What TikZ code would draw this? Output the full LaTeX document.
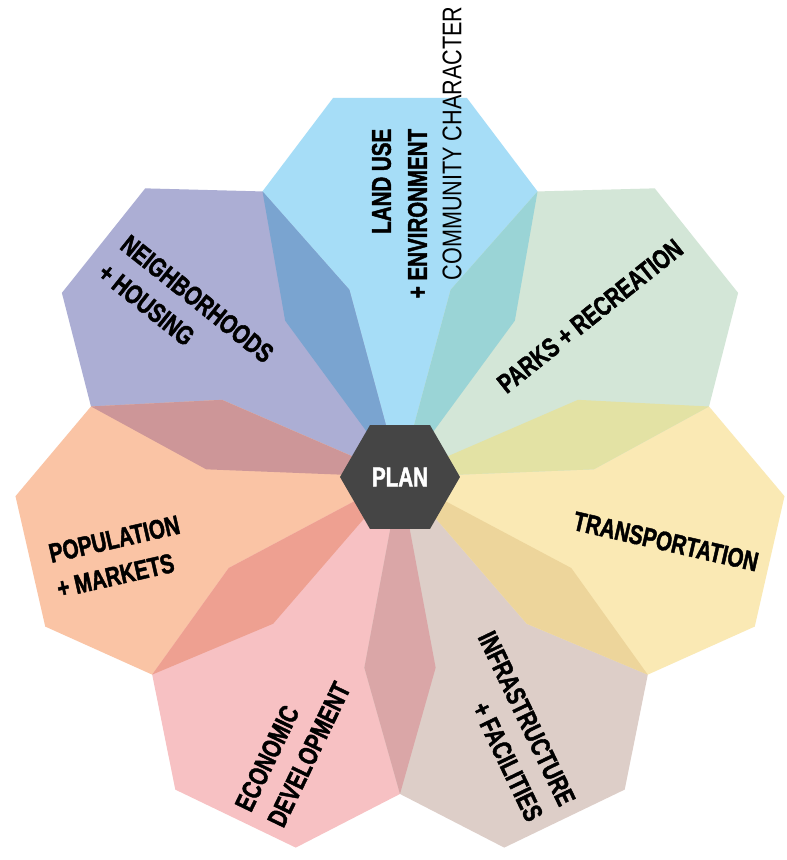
\documentclass[tikz,border=0pt]{standalone}
\usepackage{fontspec}
\newfontfamily\petalfont{Liberation Sans Bold}[FakeStretch=0.76, FakeBold=1.6]
\newfontfamily\notefont{Liberation Sans}[FakeStretch=0.8]
\usetikzlibrary{shapes.geometric}

\definecolor{landcol}{HTML}{A6DDF7}
\definecolor{neighcol}{HTML}{ACAED4}
\definecolor{popcol}{HTML}{FAC4A5}
\definecolor{econcol}{HTML}{F7C1C3}
\definecolor{infracol}{HTML}{DDCEC8}
\definecolor{transcol}{HTML}{FAE9B4}
\definecolor{parkscol}{HTML}{D3E6D7}
\definecolor{landneigh}{HTML}{7AA4D0}
\definecolor{neighpop}{HTML}{CD9698}
\definecolor{popecon}{HTML}{EEA091}
\definecolor{econinfra}{HTML}{DAA6A7}
\definecolor{infratrans}{HTML}{EDD59B}
\definecolor{transparks}{HTML}{E3E2A4}
\definecolor{parksland}{HTML}{9AD4D6}
\definecolor{plancol}{HTML}{454545}

\tikzset{
  petal label/.style={font=\petalfont\fontsize{27}{36}\selectfont, inner sep=0pt},
  note label/.style={font=\notefont\fontsize{27}{36}\selectfont, inner sep=0pt},
}

\begin{document}
\begin{tikzpicture}[x=1pt,y=1pt]
      \fill[white] (-400,-383) rectangle (387,477);
      % petals
      \fill[landcol] (0,0) -- (53.7:194) -- (64.29:317) -- (80:385) -- (100:385) -- (115.71:317) -- (126.3:194) -- cycle;
      \fill[neighcol, rotate=51.43] (0,0) -- (53.7:194) -- (64.29:317) -- (80:385) -- (100:385) -- (115.71:317) -- (126.3:194) -- cycle;
      \fill[popcol, rotate=102.86] (0,0) -- (53.7:194) -- (64.29:317) -- (80:385) -- (100:385) -- (115.71:317) -- (126.3:194) -- cycle;
      \fill[econcol, rotate=154.29] (0,0) -- (53.7:194) -- (64.29:317) -- (80:385) -- (100:385) -- (115.71:317) -- (126.3:194) -- cycle;
      \fill[infracol, rotate=205.71] (0,0) -- (53.7:194) -- (64.29:317) -- (80:385) -- (100:385) -- (115.71:317) -- (126.3:194) -- cycle;
      \fill[transcol, rotate=257.14] (0,0) -- (53.7:194) -- (64.29:317) -- (80:385) -- (100:385) -- (115.71:317) -- (126.3:194) -- cycle;
      \fill[parkscol, rotate=308.57] (0,0) -- (53.7:194) -- (64.29:317) -- (80:385) -- (100:385) -- (115.71:317) -- (126.3:194) -- cycle;
      % overlaps
      \fill[landneigh] (0,0) -- (126.3:194) -- (115.71:317) -- (105.13:194) -- cycle;
      \fill[neighpop, rotate=51.43] (0,0) -- (126.3:194) -- (115.71:317) -- (105.13:194) -- cycle;
      \fill[popecon, rotate=102.86] (0,0) -- (126.3:194) -- (115.71:317) -- (105.13:194) -- cycle;
      \fill[econinfra, rotate=154.29] (0,0) -- (126.3:194) -- (115.71:317) -- (105.13:194) -- cycle;
      \fill[infratrans, rotate=205.71] (0,0) -- (126.3:194) -- (115.71:317) -- (105.13:194) -- cycle;
      \fill[transparks, rotate=257.14] (0,0) -- (126.3:194) -- (115.71:317) -- (105.13:194) -- cycle;
      \fill[parksland, rotate=308.57] (0,0) -- (126.3:194) -- (115.71:317) -- (105.13:194) -- cycle;
      % centre
      \node[regular polygon, regular polygon sides=6, minimum size=120, inner sep=0pt,
        fill=plancol, text=white, petal label] (plan) at (0,0) {PLAN};
      \draw[petal label]
        (-0.5, 263.5) node[rotate=90, align=right] (landuse){LAND USE\\+ ENVIRONMENT}
        (-214, 164) node[rotate=-38.57, align=left] (neighborhoods){NEIGHBORHOODS\\+ HOUSING}
        (190, 161) node[rotate=38.57] (parks){PARKS + RECREATION}
        (266, -64.5) node[rotate=-12.86] (transportation){TRANSPORTATION}
        (-281.7, -79.6) node[rotate=12.86, align=left] (population){POPULATION\\+ MARKETS}
        (-107.3, -269.6) node[rotate=64.29, align=left] (economic){ECONOMIC\\DEVELOPMENT}
        (110.6, -249.2) node[rotate=-64.29, align=right] (infrastructure){INFRASTRUCTURE\\+ FACILITIES};
      \node[note label, rotate=90] (community) at (52, 333.5) {COMMUNITY CHARACTER};
    \end{tikzpicture}
\end{document}
